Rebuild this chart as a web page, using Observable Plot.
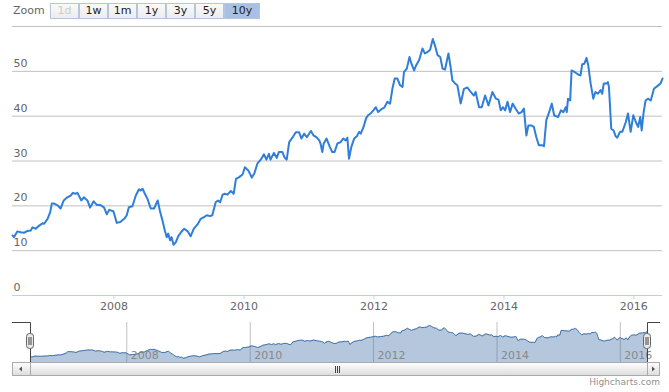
<!DOCTYPE html>
<html><head><meta charset="utf-8">
<script src="https://cdn.jsdelivr.net/npm/d3@7"></script>
<script src="https://cdn.jsdelivr.net/npm/@observablehq/plot@0.6"></script>
<style>
body{margin:0;background:#fff;font-family:"DejaVu Sans",Verdana,sans-serif;}
#wrap{position:relative;width:669px;height:392px;overflow:hidden;}
#main,#nav,#chrome{position:absolute;left:0;}
#main{top:0;}
#nav{top:318px;}
#chrome{top:0;pointer-events:none;}
#zoomLabel{position:absolute;left:13px;top:4px;font-size:11px;color:#666;}
.btn{position:absolute;top:3px;height:16px;box-sizing:border-box;border:1px solid #b5c5dc;background:linear-gradient(#fafafa,#ececec);font-size:11px;line-height:14px;text-align:center;color:#222;}
.btn.dis{color:#ccc;}
.btn.sel{background:#a9c0e6;color:#222;}
#credit{position:absolute;right:9px;top:377px;font-size:9px;color:#909090;}
</style></head><body>
<div id="wrap">
  <div id="zoomLabel">Zoom</div>
  <div id="buttons"></div>
  <div id="main"></div>
  <div id="nav"></div>
  <svg id="chrome" width="669" height="392">
    <defs>
      <linearGradient id="sg" x1="0" y1="0" x2="0" y2="1">
        <stop offset="0" stop-color="#ffffff"/><stop offset="1" stop-color="#dcdcdc"/>
      </linearGradient>
    </defs>
    <path d="M12 322.5 H30.5 V362 M647.5 362 V322.5 H660" fill="none" stroke="#444" stroke-width="1"/>
    <rect x="26.5" y="333.5" width="7" height="15" rx="3" fill="#ebe7e8" stroke="#666"/>
    <path d="M29 337 V345 M31 337 V345" stroke="#444"/>
    <rect x="643.5" y="333.5" width="7" height="15" rx="3" fill="#ebe7e8" stroke="#666"/>
    <path d="M646 337 V345 M648 337 V345" stroke="#444"/>
    <rect x="12.5" y="362.5" width="18" height="13" fill="url(#sg)" stroke="#aaa"/>
    <path d="M19 369 L22 366.5 V371.5 Z" fill="#555"/>
    <rect x="30.5" y="362.5" width="617" height="13" fill="url(#sg)" stroke="#aaa"/>
    <path d="M335.5 366 V373 M337.5 366 V373 M339.5 366 V373" stroke="#444"/>
    <rect x="647.5" y="362.5" width="12" height="13" fill="url(#sg)" stroke="#aaa"/>
    <path d="M655 369 L652 366.5 V371.5 Z" fill="#555"/>
  </svg>
  <div id="credit">Highcharts.com</div>
</div>
<script>
const dates = ["2006-06-10","2006-06-18","2006-07-07","2006-07-26","2006-08-14","2006-09-03","2006-09-21","2006-09-30","2006-10-19","2006-11-07","2006-11-26","2006-12-05","2006-12-24",
"2007-01-08","2007-01-17","2007-01-30","2007-02-19","2007-03-07","2007-03-25","2007-04-14","2007-05-03","2007-05-15","2007-05-30","2007-06-10","2007-07-02","2007-07-16","2007-08-05","2007-08-20","2007-09-09","2007-09-27","2007-10-15","2007-10-28","2007-11-07","2007-11-22","2007-12-05","2007-12-29",
"2008-01-17","2008-02-06","2008-02-28","2008-03-13","2008-03-25","2008-04-14","2008-05-03","2008-05-21","2008-05-30","2008-06-10","2008-06-23","2008-07-07","2008-07-26","2008-08-14","2008-09-03","2008-09-17","2008-09-30","2008-10-13","2008-10-24","2008-11-01","2008-11-12","2008-11-20","2008-12-01","2008-12-14","2008-12-27",
"2009-01-12","2009-01-30","2009-02-19","2009-03-07","2009-03-25","2009-04-14","2009-05-03","2009-05-21","2009-06-06","2009-06-24","2009-07-07","2009-07-26","2009-08-08","2009-08-20","2009-09-03","2009-09-15","2009-09-30","2009-10-19","2009-11-04","2009-11-17","2009-12-05","2009-12-24",
"2010-01-06","2010-01-25","2010-02-14","2010-02-28","2010-03-17","2010-04-05","2010-04-23","2010-05-07","2010-05-21","2010-05-30","2010-06-18","2010-07-04","2010-07-16","2010-08-05","2010-08-18","2010-08-29","2010-09-12","2010-09-30","2010-10-19","2010-11-07","2010-11-20","2010-12-05","2010-12-20",
"2011-01-12","2011-01-27","2011-02-15","2011-02-28","2011-03-07","2011-03-17","2011-03-25","2011-04-10","2011-04-29","2011-05-12","2011-05-25","2011-06-10","2011-06-28","2011-07-13","2011-07-26","2011-08-05","2011-08-14","2011-08-27","2011-09-12","2011-09-27","2011-10-10","2011-10-19","2011-11-04","2011-11-17","2011-11-29","2011-12-14","2011-12-29",
"2012-01-12","2012-01-25","2012-02-10","2012-02-28","2012-03-17","2012-04-01","2012-04-14","2012-04-27","2012-05-12","2012-05-27","2012-06-10","2012-06-18","2012-07-04","2012-07-19","2012-07-30","2012-08-14","2012-08-25","2012-09-12","2012-09-30","2012-10-13","2012-10-28","2012-11-12","2012-11-27","2012-12-09","2012-12-24",
"2013-01-08","2013-01-21","2013-02-04","2013-02-23","2013-03-07","2013-03-17","2013-04-01","2013-04-14","2013-05-03","2013-05-21","2013-06-10","2013-06-28","2013-07-16","2013-07-26","2013-08-14","2013-08-29","2013-09-17","2013-10-06","2013-10-28","2013-11-17","2013-12-01","2013-12-14","2013-12-27",
"2014-01-08","2014-01-21","2014-02-04","2014-02-19","2014-03-07","2014-03-25","2014-04-10","2014-04-23","2014-05-07","2014-05-18","2014-06-06","2014-06-18","2014-07-02","2014-07-16","2014-08-05","2014-08-14","2014-08-27","2014-09-12","2014-09-27","2014-10-10","2014-11-01","2014-11-17","2014-12-01","2014-12-14","2014-12-20","2014-12-27",
"2015-01-08","2015-01-16","2015-02-04","2015-02-22","2015-03-07","2015-03-17","2015-03-29","2015-04-10","2015-04-20","2015-05-03","2015-05-18","2015-05-30","2015-06-13","2015-06-28","2015-07-07","2015-07-16","2015-08-01","2015-08-08","2015-08-14","2015-08-27","2015-09-09","2015-09-21","2015-09-30","2015-10-15","2015-10-28","2015-11-17","2015-11-29","2015-12-14","2015-12-29",
"2016-01-12","2016-01-25","2016-02-06","2016-02-14","2016-02-25","2016-03-07","2016-03-20","2016-04-05","2016-04-23","2016-05-12","2016-05-30","2016-06-10"];
const values = [13.4,13.0,14.3,14.1,14.0,14.4,14.5,15.2,14.9,15.6,16.1,16.0,17.1,
18.6,20.5,20.5,20.1,19.4,21.2,21.9,22.3,22.9,22.7,22.9,21.2,21.9,21.2,19.6,21.0,20.2,20.2,19.9,19.6,18.1,19.1,18.8,
16.2,16.4,17.1,17.9,19.7,19.9,22.3,23.7,23.4,23.8,22.7,21.6,19.4,19.4,21.2,18.6,16.7,14.5,13.0,13.8,12.3,13.0,11.3,11.9,13.2,
14.1,14.9,14.3,13.2,14.9,15.8,17.1,17.5,17.9,17.7,17.9,20.8,21.2,20.8,22.5,22.7,22.5,23.3,22.7,26.0,26.4,27.0,
28.6,27.9,26.3,27.2,29.4,30.3,31.5,30.3,31.6,30.3,31.8,30.7,32.0,32.0,30.7,30.3,34.2,35.2,36.4,36.4,35.0,36.1,35.3,
36.7,35.7,35.2,34.6,33.9,32.0,33.9,35.0,33.1,32.0,32.0,33.9,34.2,35.0,34.6,35.2,30.5,33.1,35.0,35.5,36.5,36.1,37.6,39.4,40.2,40.6,41.3,
42.0,40.9,41.5,41.9,43.2,42.8,46.1,48.4,48.4,46.9,46.5,49.8,50.6,53.2,51.7,50.2,51.3,52.6,55.1,54.0,54.3,54.8,57.2,55.8,53.6,
53.2,50.6,50.4,54.0,51.0,48.0,47.3,46.9,42.8,46.1,46.4,45.4,44.6,45.4,42.0,42.0,44.6,42.4,45.4,43.9,43.7,41.3,42.0,
41.3,43.2,40.9,42.8,41.7,40.6,40.9,41.7,35.7,37.9,37.9,37.6,35.3,33.5,33.5,33.3,39.1,40.9,42.8,40.2,39.8,41.3,40.9,42.0,40.9,43.9,
43.5,50.2,49.8,49.3,49.1,51.6,51.7,53.0,51.3,47.3,43.9,45.4,45.0,45.8,45.0,47.3,47.3,47.6,46.5,37.2,36.8,35.5,35.2,36.5,36.5,38.7,40.6,36.5,40.2,
38.7,37.6,39.8,36.8,40.9,43.5,43.9,43.5,46.1,46.7,47.3,48.4];
const yTicks = [0, 10, 20, 30, 40, 50];
const yGrid = [0, 10, 20, 30, 40, 50, 60];
const xTickYears = ["2008", "2010", "2012", "2014", "2016"];
const zoomLabels = ["1d", "1w", "1m", "1y", "3y", "5y", "10y"];

const data = dates.map((d, i) => ({date: new Date(d), value: values[i]}));
const xTicks = xTickYears.map(y => new Date(y + "-01-01"));
const ext = d3.extent(data, d => d.date);
const font = {fontFamily: "'DejaVu Sans', Verdana, sans-serif", fontSize: "11px", background: "transparent", overflow: "visible"};

const main = Plot.plot({
  width: 669, height: 320,
  marginLeft: 12, marginRight: 7, marginTop: 26, marginBottom: 25,
  style: font,
  x: {type: "utc", domain: ext},
  y: {domain: [0, 60], axis: null},
  marks: [
    Plot.ruleY(yGrid, {stroke: "#C0C0C0", strokeWidth: 1}),
    Plot.ruleY([0], {stroke: "#C0D0E0", strokeWidth: 1}),
    Plot.axisX({ticks: xTicks, tickFormat: d => String(d.getUTCFullYear()), tickSize: 4, tickPadding: 3, stroke: "#C0D0E0", fill: "#666", label: null}),
    Plot.text(yTicks, {y: d => d, text: d => String(d), frameAnchor: "left", textAnchor: "start", dx: 1, dy: -8, fill: "#666"}),
    Plot.line(data, {x: "date", y: "value", stroke: "#2f7ed8", strokeWidth: 2})
  ]
});
document.getElementById("main").appendChild(main);

const navMin = 5.4, navMax = 61.2;
const nav = Plot.plot({
  width: 669, height: 50,
  marginLeft: 30, marginRight: 22, marginTop: 4, marginBottom: 6,
  style: font,
  x: {type: "utc", domain: ext, axis: null},
  y: {domain: [navMin, navMax], axis: null},
  marks: [
    Plot.ruleX(xTicks, {stroke: "#C0C0C0", strokeWidth: 1}),
    Plot.areaY(data, {x: "date", y1: navMin, y2: "value", fill: "#4572A7", fillOpacity: 0.4}),
    Plot.line(data, {x: "date", y: "value", stroke: "#4572A7", strokeWidth: 1}),
    Plot.text(xTicks, {x: d => d, text: d => String(d.getUTCFullYear()), frameAnchor: "bottom", textAnchor: "start", lineAnchor: "bottom", dx: 4, dy: -4, fill: "#888"})
  ]
});
document.getElementById("nav").appendChild(nav);

const bwrap = document.getElementById("buttons");
const bx = [50, 79, 108, 137, 166, 195, 224];
const bw = [29, 29, 29, 29, 29, 29, 36];
zoomLabels.forEach((t, i) => {
  const b = document.createElement("div");
  b.className = "btn" + (i === 0 ? " dis" : "") + (i === zoomLabels.length - 1 ? " sel" : "");
  b.style.left = bx[i] + "px";
  b.style.width = bw[i] + "px";
  b.textContent = t;
  bwrap.appendChild(b);
});
</script>
</body></html>
